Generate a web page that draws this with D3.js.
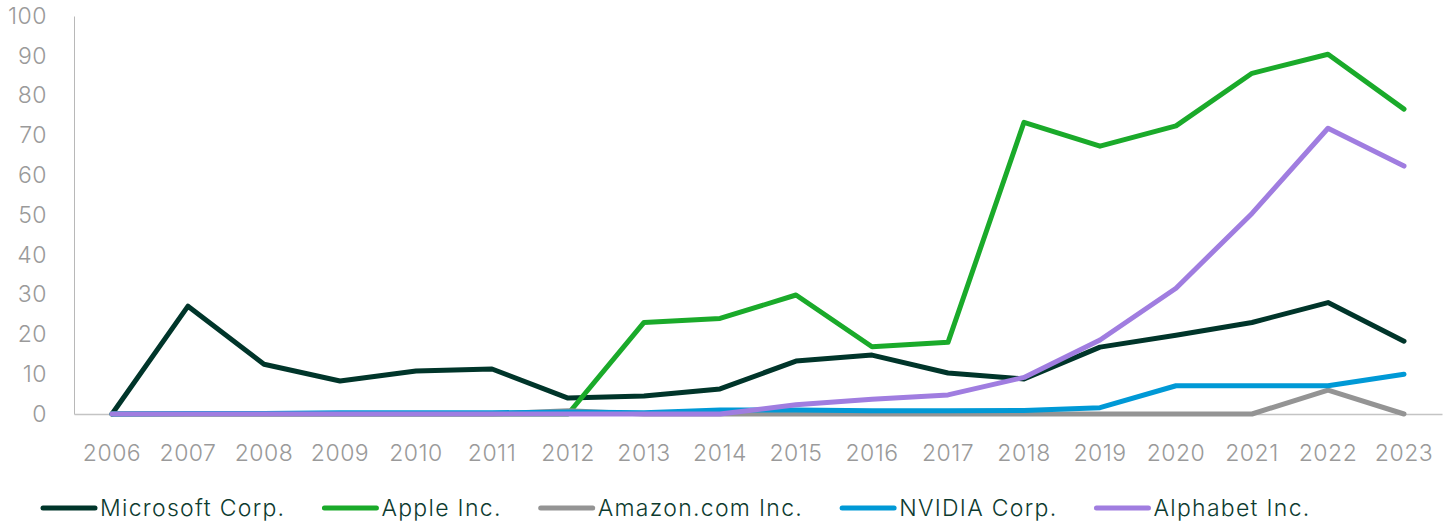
<!DOCTYPE html>
<html><head><meta charset="utf-8">
<script src="https://cdn.jsdelivr.net/npm/d3@7"></script>
<style>html,body{margin:0;padding:0;background:#fff;}svg{display:block;}</style>
</head><body><svg id="c" width="1453" height="526"></svg>
<script>
const years = ["2006","2007","2008","2009","2010","2011","2012","2013","2014","2015","2016","2017","2018","2019","2020","2021","2022","2023"];
const yTicks = [0,10,20,30,40,50,60,70,80,90,100];
const microsoft = [0,27.1,12.5,8.3,10.8,11.3,4.0,4.5,6.3,13.3,14.8,10.3,8.8,16.8,19.8,23.0,28.0,18.3];
const apple     = [0,0,0,0,0,0,0,23.0,24.0,29.9,16.9,18.0,73.3,67.3,72.4,85.6,90.4,76.6];
const amazon    = [0,0,0,0,0,0,0.8,0,0,0,0,0,0,0,0,0,6.0,0];
const nvidia    = [0,0.1,0.1,0.3,0.3,0.3,0.5,0.3,1.0,1.0,0.8,0.8,0.9,1.6,7.1,7.1,7.1,10.0];
const alphabet  = [0,0,0,0,0,0,0,0,0,2.3,3.7,4.8,9.2,18.6,31.6,50.4,71.8,62.3];
const seriesNames = ["Microsoft Corp.","Apple Inc.","Amazon.com Inc.","NVIDIA Corp.","Alphabet Inc."];
const seriesColors = ["#00352a","#1aaa2a","#949494","#0099d6","#a07de0"];
const seriesValues = [microsoft, apple, amazon, nvidia, alphabet];

const svg = d3.select("#c");
const font = "Inter, 'Noto Sans', sans-serif";
const x = d3.scaleBand().domain(years).range([74, 1442]);
const y = d3.scaleLinear().domain([0,100]).range([414, 16]);
const cx = d => x(d) + x.bandwidth()/2;

// y axis
const yAxis = d3.axisLeft(y).tickValues(yTicks).tickSize(0).tickPadding(27);
const gy = svg.append("g").attr("transform","translate(74,0)").call(yAxis);
gy.select(".domain").attr("stroke","#b8b8b8").attr("stroke-width",1);
gy.selectAll("text").attr("font-family",font).attr("font-size",23).attr("font-weight",300)
  .attr("letter-spacing","0.5px").attr("fill","#9a9a9a");

// x axis
const xAxis = d3.axisBottom(x).tickSize(0).tickPadding(31);
const gx = svg.append("g").attr("transform","translate(0,414)").call(xAxis);
gx.select(".domain").attr("stroke","#c4c4c4").attr("stroke-width",1.5);
gx.selectAll("text").attr("font-family",font).attr("font-size",23).attr("font-weight",300)
  .attr("letter-spacing","0.5px").attr("fill","#9a9a9a");

// lines
const line = d3.line().x((d,i)=>cx(years[i])).y(d=>y(d));
seriesValues.forEach((vals,k)=>{
  svg.append("path").datum(vals).attr("d",line)
    .attr("fill","none").attr("stroke",seriesColors[k]).attr("stroke-width",5)
    .attr("stroke-linejoin","round").attr("stroke-linecap","round");
});

// legend
const lg = svg.append("g").attr("transform","translate(0,508)");
let lx = 43;
seriesNames.forEach((name,k)=>{
  lg.append("line").attr("x1",lx).attr("x2",lx+52).attr("y1",0).attr("y2",0)
    .attr("stroke",seriesColors[k]).attr("stroke-width",5).attr("stroke-linecap","round");
  const t = lg.append("text").attr("x",lx+57).attr("y",0).attr("dy","0.35em")
    .attr("font-family",font).attr("font-size",23).attr("font-weight",300)
    .attr("letter-spacing","1.3px").attr("fill","#0d3b30").text(name);
  lx += 57 + t.node().getBBox().width + 39;
});
</script></body></html>
